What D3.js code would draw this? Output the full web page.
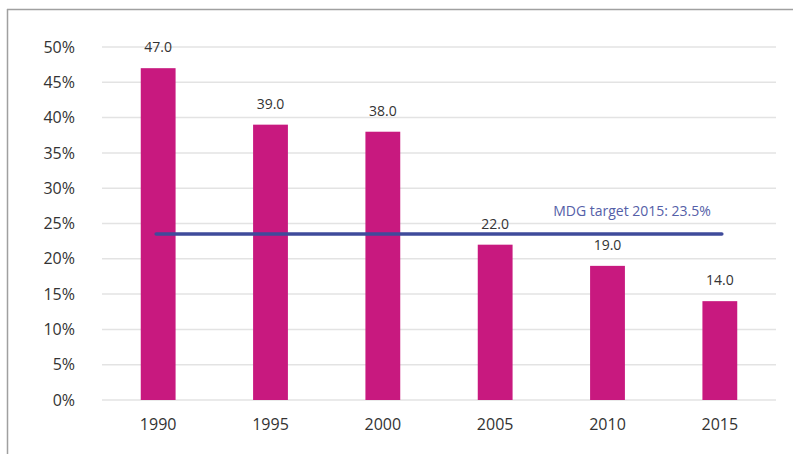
<!DOCTYPE html>
<html><head><meta charset="utf-8">
<script src="https://d3js.org/d3.v7.min.js"></script>
<style>body{margin:0;background:#fff;} svg{display:block;font-family:"Open Sans","Noto Sans",sans-serif;}</style>
</head><body>
<svg id="c" width="793" height="454"></svg>
<script>
const years = ["1990","1995","2000","2005","2010","2015"];
const values = [47.0, 39.0, 38.0, 22.0, 19.0, 14.0];
const yTicks = [0,5,10,15,20,25,30,35,40,45,50];
const targetValue = 23.5;
const targetLabel = "MDG target 2015: 23.5%";

const svg = d3.select("#c");
const m = {l:102, r:776, t:47, b:400};
const x = d3.scaleBand().domain(years).range([m.l, m.r]).paddingInner(0.69).paddingOuter(0.345);
const y = d3.scaleLinear().domain([0,50]).range([m.b, m.t]);

// frame
svg.append("line").attr("x1",7.5).attr("x2",7.5).attr("y1",9).attr("y2",454).attr("stroke","#a0a0a0").attr("stroke-width",1.5);
svg.append("line").attr("x1",7).attr("x2",793).attr("y1",9.5).attr("y2",9.5).attr("stroke","#a0a0a0").attr("stroke-width",1.5);

// grid
svg.append("g").selectAll("line").data(yTicks).join("line")
  .attr("x1",m.l).attr("x2",m.r).attr("y1",d=>y(d)).attr("y2",d=>y(d))
  .attr("stroke","#e3e3e3").attr("stroke-width",1.5);

// y axis labels
const ya = svg.append("g").attr("transform",`translate(${m.l-27},0)`)
  .call(d3.axisLeft(y).tickValues(yTicks).tickFormat(d=>d+"%").tickSize(0).tickPadding(0));
ya.select(".domain").remove();
ya.selectAll("text").attr("font-size",16).attr("fill","#333").attr("font-family","'Open Sans','Noto Sans',sans-serif");

// x axis labels
const xa = svg.append("g").attr("transform",`translate(0,${m.b+17})`)
  .call(d3.axisBottom(x).tickSize(0).tickPadding(0));
xa.select(".domain").remove();
xa.selectAll("text").attr("font-size",16).attr("fill","#333").attr("dy","0.8em").attr("font-family","'Open Sans','Noto Sans',sans-serif");

// bars
svg.append("g").selectAll("rect").data(values).join("rect")
  .attr("x",(d,i)=>x(years[i])).attr("width",x.bandwidth())
  .attr("y",d=>y(d)).attr("height",d=>y(0)-y(d))
  .attr("fill","#C8197F");

// value labels
svg.append("g").selectAll("text").data(values).join("text")
  .attr("x",(d,i)=>x(years[i])+x.bandwidth()/2).attr("y",d=>y(d)-16)
  .attr("text-anchor","middle").attr("font-size",14).attr("fill","#333")
  .text(d=>d.toFixed(1));

// target line
const x0 = x(years[0])+x.bandwidth()/2, x1 = x(years[years.length-1])+x.bandwidth()/2;
svg.append("line").attr("x1",x0-2).attr("x2",x1+2).attr("y1",y(targetValue)).attr("y2",y(targetValue))
  .attr("stroke","#3F4B9B").attr("stroke-width",3.5).attr("stroke-linecap","round");
svg.append("text").attr("x",632).attr("y",y(targetValue)-18).attr("text-anchor","middle")
  .attr("font-size",14).attr("fill","#5560A8").text(targetLabel);
</script>
</body></html>
